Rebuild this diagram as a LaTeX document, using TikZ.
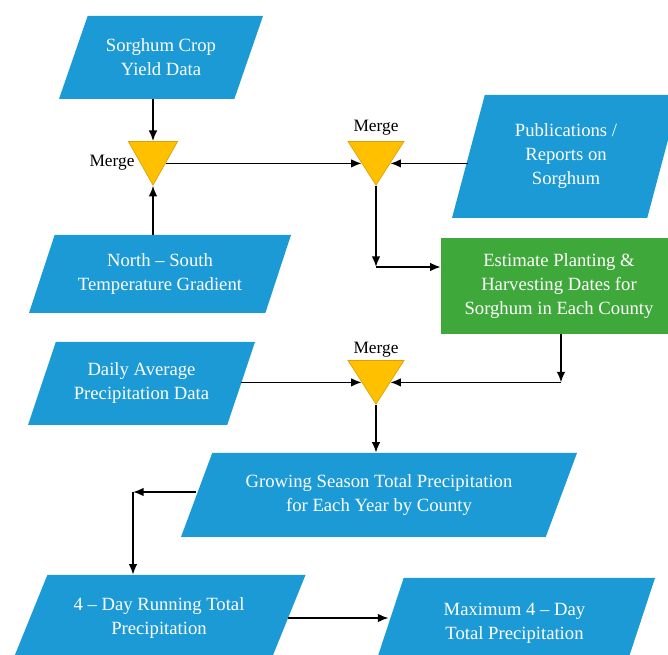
\documentclass[tikz,border=0pt]{standalone}
\usepackage{fontspec}
\setmainfont{Liberation Serif}
\usetikzlibrary{positioning, calc, shapes.geometric, arrows.meta}

\definecolor{flowblue}{RGB}{28,154,214}
\definecolor{flowgreen}{RGB}{63,168,58}
\definecolor{mergeyellow}{RGB}{255,192,0}
\definecolor{mergeedge}{RGB}{222,160,0}

\tikzset{
  lean/.style={trapezium left angle=#1, trapezium right angle={180-#1}},
  databox/.style={trapezium, lean=57, trapezium stretches body,
    fill=flowblue, text=white, align=center,
    font=\fontsize{14}{18}\selectfont, inner sep=2pt},
  taskbox/.style={rectangle, fill=flowgreen, text=white, align=center,
    font=\fontsize{14}{18}\selectfont, inner sep=2pt},
  merge/.style={regular polygon, regular polygon sides=3, shape border rotate=180,
    minimum size=48.5pt, inner sep=0pt, yscale=0.9, fill=mergeyellow,
    draw=mergeedge, line width=0.5pt},
  mlabel/.style={font=\fontsize{13}{15}\selectfont, inner sep=0pt},
  flow/.style={draw=black, line width=1.3pt, -{Latex[length=8pt,width=6.5pt]}}
}

\begin{document}
\begin{tikzpicture}[x=0.75pt, y=-0.75pt]
    \clip (0,0) rectangle (668,655);

    % data inputs
    \node[databox, lean=56, minimum width=153pt, minimum height=62.25pt] (yield) at (161,57.5) {Sorghum Crop\\Yield Data};
    \node[databox, lean=61, minimum width=196.5pt, minimum height=58.5pt] (ns) at (160,274) {North – South\\Temperature Gradient};
    \node[databox, lean=65, minimum width=171pt, minimum height=92.25pt] (pubs) at (566,156.5) {Publications /\\Reports on\\Sorghum};
    \node[databox, lean=59, minimum width=170.25pt, minimum height=62.25pt] (daily) at (141.5,383.5) {Daily Average\\Precipitation Data};

    % steps
    \node[taskbox, minimum width=177pt, minimum height=72pt] (green) at (559,286) {Estimate Planting \&\\Harvesting Dates for\\Sorghum in Each County};
    \node[databox, lean=56, minimum width=297pt, minimum height=63pt] (growing) at (379,495) {Growing Season Total Precipitation\\for Each Year by County};
    \node[databox, lean=53, minimum width=219.75pt, minimum height=64.5pt] (fourday) at (159,618) {4 – Day Running Total\\Precipitation};
    \node[databox, lean=57, minimum width=210.75pt, minimum height=67.5pt] (max) at (514.5,623) {Maximum 4 – Day\\Total Precipitation};

    % merges
    \node[merge, xscale=0.88] (m1) at (153,156) {};
    \node[merge] (m2) at (376,156) {};
    \node[merge] (m3) at (376,375) {};
    \foreach \m in {m1,m2,m3} {
        \coordinate (\m-l) at ($(\m.corner 3)!.5!(\m.corner 1)$);
        \coordinate (\m-r) at ($(\m.corner 2)!.5!(\m.corner 1)$);
    }
    \node[mlabel] (m1lab) at (112,163) {Merge};
    \node[mlabel] (m2lab) at (376,128) {Merge};
    \node[mlabel] (m3lab) at (376,350) {Merge};

    % bends
    \coordinate (c1) at (376,267);
    \coordinate (c2) at (m3-r -| 561,0);
    \coordinate (c3) at (133,492);

    \draw[flow] (yield.south -| m1) -- (m1.north);
    \draw[flow] (ns.north -| m1) -- (m1.corner 1);
    \draw[flow] (m1-r) -- (m2-l);
    \draw[flow] (m2-r -| pubs.left side) -- (m2-r);
    \draw[flow] (m2.corner 1) -- (c1);
    \draw[flow] (c1) -- (c1 -| green.west);
    \draw[flow] (c2 |- green.south) -- (c2);
    \draw[flow] (c2) -- (m3-r);
    \draw[flow] (m3-l -| daily.right side) -- (m3-l);
    \draw[flow] (m3.corner 1) -- (m3 |- growing.north);
    \draw[flow] (c3 -| growing.left side) -- (c3);
    \draw[flow] (c3) -- (c3 |- fourday.north);
    \draw[flow] (fourday.right side) -- (fourday.right side -| max.left side);
\end{tikzpicture}
\end{document}
